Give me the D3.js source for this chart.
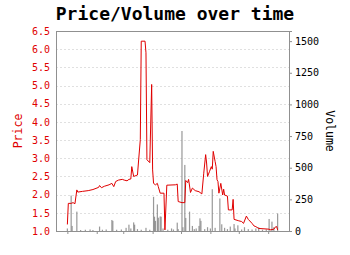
<!DOCTYPE html>
<html>
<head>
<meta charset="utf-8">
<script src="https://cdn.jsdelivr.net/npm/d3@7/dist/d3.min.js"></script>
<style>
  body { margin: 0; background: #fff; }
  svg { display: block; font-family: "DejaVu Sans Mono", monospace; }
</style>
</head>
<body>
<div id="chart"></div>
<script>
  // price series (date, price)
  const priceDates = [
    "2014-01-01","2014-01-02","2014-01-05","2014-01-07","2014-01-09","2014-01-11","2014-01-12","2014-01-17",
    "2014-01-23","2014-01-28","2014-02-03","2014-02-04","2014-02-06","2014-02-09","2014-02-14","2014-02-17",
    "2014-02-19","2014-02-21","2014-02-24","2014-02-28","2014-03-02","2014-03-05","2014-03-07","2014-03-09",
    "2014-03-10","2014-03-12","2014-03-16","2014-03-17","2014-03-19","2014-03-20","2014-03-24","2014-03-25",
    "2014-03-26","2014-03-29","2014-03-31","2014-04-01","2014-04-02","2014-04-04","2014-04-06","2014-04-07",
    "2014-04-09","2014-04-13","2014-04-14","2014-04-16","2014-04-25","2014-04-27","2014-04-28","2014-05-02",
    "2014-05-05","2014-05-06","2014-05-08","2014-05-09","2014-05-11","2014-05-13","2014-05-16","2014-05-20",
    "2014-05-23","2014-05-25","2014-05-27","2014-05-28","2014-05-29","2014-05-31","2014-06-02","2014-06-03",
    "2014-06-04","2014-06-06","2014-06-07","2014-06-08","2014-06-09","2014-06-10","2014-06-12","2014-06-14",
    "2014-06-15","2014-06-16","2014-06-19","2014-06-20","2014-06-24","2014-06-25","2014-06-26","2014-07-01",
    "2014-07-04","2014-07-06","2014-07-09","2014-07-11","2014-07-15","2014-07-17","2014-07-19","2014-07-22",
    "2014-08-02","2014-08-03","2014-08-07","2014-08-09","2014-08-10","2014-08-11"
  ];
  const prices = [
    1.18, 1.76, 1.76, 1.78, 1.75, 2.13, 2.07, 2.09,
    2.11, 2.14, 2.20, 2.25, 2.19, 2.23, 2.27, 2.31,
    2.22, 2.36, 2.40, 2.42, 2.40, 2.38, 2.42, 2.43,
    2.77, 2.50, 2.54, 2.87, 3.51, 6.22, 6.22, 5.90,
    2.96, 2.88, 5.03, 2.68, 2.31, 2.27, 2.31, 2.22,
    2.04, 2.04, 1.03, 2.26, 2.27, 2.29, 1.81, 1.78,
    1.78, 2.39, 2.33, 2.42, 2.06, 2.18, 2.11, 2.08,
    2.02, 2.59, 3.10, 2.87, 2.50, 2.63, 2.77, 2.70,
    3.19, 2.91, 2.77, 2.41, 2.36, 2.04, 2.31, 1.99,
    2.15, 1.99, 1.96, 1.58, 1.58, 1.87, 1.32, 1.28,
    1.26, 1.21, 1.41, 1.32, 1.21, 1.14, 1.12, 1.07,
    1.05, 1.03, 1.05, 1.12, 1.12, 1.03
  ];

  // volume series (date, volume)
  const volumeDates = [
    "2014-01-01","2014-01-05","2014-01-06","2014-01-11","2014-01-15","2014-01-20","2014-01-25","2014-01-28",
    "2014-02-04","2014-02-07","2014-02-11","2014-02-17","2014-02-18","2014-02-22","2014-02-27","2014-03-04",
    "2014-03-07","2014-03-09","2014-03-12","2014-03-13","2014-03-16","2014-03-20","2014-03-25","2014-03-29",
    "2014-04-02","2014-04-03","2014-04-04","2014-04-06","2014-04-07","2014-04-09","2014-04-10","2014-04-12",
    "2014-04-17","2014-04-21","2014-04-23","2014-04-27","2014-04-28","2014-05-02","2014-05-03","2014-05-05",
    "2014-05-06","2014-05-10","2014-05-13","2014-05-15","2014-05-17","2014-05-20","2014-05-21","2014-05-22",
    "2014-05-26","2014-05-29","2014-06-01","2014-06-03","2014-06-06","2014-06-11","2014-06-13","2014-06-16",
    "2014-06-19","2014-06-22","2014-06-26","2014-06-27","2014-06-30","2014-07-04","2014-07-07","2014-07-11",
    "2014-07-15","2014-07-19","2014-07-22","2014-07-26","2014-07-30","2014-08-02","2014-08-05","2014-08-07",
    "2014-08-11"
  ];
  const volumes = [
    20, 280, 40, 153, 8, 10, 12, 8,
    35, 10, 12, 87, 80, 10, 12, 25,
    50, 20, 68, 50, 15, 10, 25, 10,
    270, 113, 80, 210, 105, 115, 113, 20,
    10, 20, 12, 66, 15, 790, 30, 522,
    103, 153, 40, 15, 20, 40, 100, 80,
    15, 30, 20, 330, 25, 257, 53, 25,
    15, 35, 55, 20, 45, 12, 30, 15,
    12, 20, 30, 10, 12, 95, 74, 30,
    138
  ];

  const priceTicks = [1.0, 1.5, 2.0, 2.5, 3.0, 3.5, 4.0, 4.5, 5.0, 5.5, 6.0, 6.5];
  const volumeTicks = [0, 250, 500, 750, 1000, 1250, 1500];

  const W = 350, H = 255;
  const margin = { top: 31, right: 61, bottom: 24, left: 56 };
  const width = W - margin.left - margin.right;
  const height = H - margin.top - margin.bottom;

  const parse = d3.timeParse("%Y-%m-%d");
  const priceData = priceDates.map((d, i) => ({ date: parse(d), value: prices[i] }));
  const volumeData = volumeDates.map((d, i) => ({ date: parse(d), value: volumes[i] }));

  const ext = d3.extent(priceData.concat(volumeData), d => d.date);
  const x = d3.scaleTime()
    .domain([d3.timeDay.offset(ext[0], -12), d3.timeDay.offset(ext[1], 12)])
    .range([0, width]);
  const yPrice = d3.scaleLinear().domain([1.0, 6.5]).range([height, 0]);
  const yVol = d3.scaleLinear().domain([0, 2 * d3.max(volumes)]).range([height, 0]);

  const svg = d3.select("#chart").append("svg")
    .attr("width", W)
    .attr("height", H);

  svg.append("text")
    .attr("x", W / 2)
    .attr("y", 20)
    .attr("text-anchor", "middle")
    .style("font-size", "18px")
    .style("font-weight", "bold")
    .text("Price/Volume over time");

  const g = svg.append("g").attr("transform", `translate(${margin.left},${margin.top})`);

  // grid
  g.append("g")
    .selectAll("line")
    .data(priceTicks)
    .join("line")
      .attr("x1", 0)
      .attr("x2", width)
      .attr("y1", d => Math.round(yPrice(d)) + 0.5)
      .attr("y2", d => Math.round(yPrice(d)) + 0.5)
      .attr("stroke", "#e0e0e0")
      .attr("stroke-dasharray", "2,2");

  // volume bars
  g.append("g")
    .selectAll("rect")
    .data(volumeData)
    .join("rect")
      .attr("x", d => x(d.date) - 0.6)
      .attr("width", 1.2)
      .attr("y", d => yVol(d.value))
      .attr("height", d => height - yVol(d.value))
      .attr("fill", "#808080")
      .attr("fill-opacity", 0.8);

  // price line
  g.append("path")
    .datum(priceData)
    .attr("fill", "none")
    .attr("stroke", "#e00000")
    .attr("stroke-width", 1)
    .attr("d", d3.line().x(d => x(d.date)).y(d => yPrice(d.value)));

  // frame
  g.append("rect")
    .attr("x", 0.5)
    .attr("y", 0.5)
    .attr("width", width)
    .attr("height", height)
    .attr("fill", "none")
    .attr("stroke", "#909090");

  // left axis
  const leftAxis = g.append("g")
    .call(d3.axisLeft(yPrice).tickValues(priceTicks).tickFormat(d3.format(".1f")).tickSize(0).tickPadding(6));
  leftAxis.select(".domain").attr("stroke", "#909090");
  leftAxis.selectAll("text").attr("fill", "#e00000").style("font-size", "10px")
    .style("font-family", "DejaVu Sans Mono");

  // right axis
  const rightAxis = g.append("g")
    .attr("transform", `translate(${width},0)`)
    .call(d3.axisRight(yVol).tickValues(volumeTicks).tickFormat(d3.format("d")).tickSize(3).tickPadding(3));
  rightAxis.select(".domain").attr("stroke", "#909090");
  rightAxis.selectAll("line").attr("stroke", "#909090");
  rightAxis.selectAll("text").attr("fill", "#000").style("font-size", "10px")
    .style("font-family", "DejaVu Sans Mono");

  // bottom axis, no labels
  const bottomAxis = g.append("g")
    .attr("transform", `translate(0,${height})`)
    .call(d3.axisBottom(x).ticks(d3.timeMonth.every(1)).tickFormat("").tickSizeOuter(0).tickSizeInner(3));
  bottomAxis.select(".domain").attr("stroke", "#909090");
  bottomAxis.selectAll("line").attr("stroke", "#909090");

  // axis titles
  svg.append("text")
    .attr("transform", `translate(18,${margin.top + height / 2}) rotate(-90)`)
    .attr("text-anchor", "middle")
    .attr("dy", "0.35em")
    .attr("fill", "#e00000")
    .style("font-size", "11.5px")
    .text("Price");

  svg.append("text")
    .attr("transform", `translate(330,${margin.top + height / 2}) rotate(90)`)
    .attr("text-anchor", "middle")
    .attr("dy", "0.35em")
    .attr("fill", "#000")
    .style("font-size", "11.5px")
    .text("Volume");
</script>
</body>
</html>
